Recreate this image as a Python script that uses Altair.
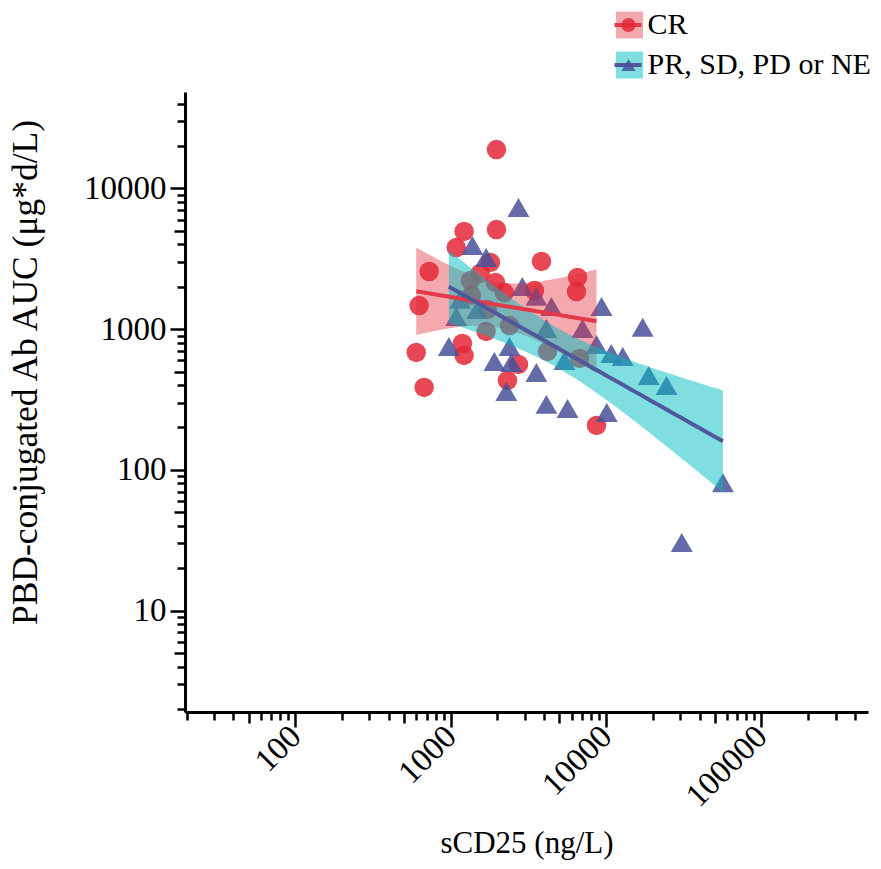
import altair as alt
import numpy as np
import pandas as pd

groups = ["CR", "PR, SD, PD or NE"]

cr_x = [1970, 1220, 1970, 1085, 3840, 727, 1800, 1550, 1940, 2210, 3460, 6550, 6450, 626,
        1340, 1360, 1720, 2390, 1690, 1190, 1220, 600, 4200, 6750, 2730, 2320, 675, 8680]
cr_y = [18900, 4950, 5100, 3800, 3030, 2570, 2980, 2490, 2150, 1820, 1880, 2330, 1850, 1470,
        2220, 1740, 1380, 1060, 963, 791, 650, 683, 694, 619, 561, 432, 385, 207]

ot_x = [2730, 1380, 1690, 2890, 3560, 4450, 9350, 1085, 7050, 4130, 973, 2390, 1910, 3560, 2280,
        4130, 5650, 10100, 8680, 10800, 12800, 17200, 18800, 24500, 56500, 30700, 5400, 2460, 1150, 1480]
ot_y = [7330, 3930, 3230, 2010, 1710, 1450, 1450, 1230, 1010, 1010, 753, 753, 589, 492, 361,
        292, 273, 256, 778, 672, 640, 1030, 469, 398, 81, 30.5, 599, 580, 1630, 1380]

x_ticks = [m * 10 ** e for e in range(1, 6) for m in range(1, 10) if 19 < m * 10 ** e < 490000]
y_ticks = [m * 10 ** e for e in range(0, 5) for m in range(1, 10) if 1.8 < m * 10 ** e < 49000]

RED = "#E42837"
BLUE = "#48519A"
BAND = ["rgba(228,40,55,0.4)", "rgba(0,190,194,0.5)"]
LINE = ["#E23A4A", "#4E589B"]
FONT = "Liberation Serif"


def tq(df):
    z = 1.959963985
    g1 = (z ** 3 + z) / 4
    g2 = (5 * z ** 5 + 16 * z ** 3 + 3 * z) / 96
    g3 = (3 * z ** 7 + 19 * z ** 5 + 17 * z ** 3 - 15 * z) / 384
    return z + g1 / df + g2 / df ** 2 + g3 / df ** 3


def fit(xs, ys, name):
    lx = np.log10(np.array(xs, float))
    ly = np.log10(np.array(ys, float))
    n = len(lx)
    b, a = np.polyfit(lx, ly, 1)
    s = np.sqrt(np.sum((ly - (a + b * lx)) ** 2) / (n - 2))
    mx = lx.mean()
    sxx = np.sum((lx - mx) ** 2)
    gx = np.linspace(lx.min(), lx.max(), 80)
    gy = a + b * gx
    se = s * np.sqrt(1 / n + (gx - mx) ** 2 / sxx)
    t = tq(n - 2)
    return pd.DataFrame({"x": 10 ** gx, "fit": 10 ** gy, "lo": 10 ** (gy - t * se),
                         "hi": 10 ** (gy + t * se), "group": name})


pts = pd.concat([
    pd.DataFrame({"x": cr_x, "y": cr_y, "group": groups[0]}),
    pd.DataFrame({"x": ot_x, "y": ot_y, "group": groups[1]}),
])
fits = pd.concat([fit(cr_x, cr_y, groups[0]), fit(ot_x, ot_y, groups[1])])
band_df = fits[["x", "lo", "hi", "group"]].copy()
line_df = fits[["x", "fit", "group"]].copy()

major = "abs(log(datum.value)/LN10 - round(log(datum.value)/LN10)) < 0.001"
five = "abs(log(datum.value/5)/LN10 - round(log(datum.value/5)/LN10)) < 0.001"
tick_size = {"condition": [{"test": major, "value": 15}, {"test": five, "value": 11}], "value": 8}
label_expr = major + " ? format(datum.value, 'd') : ''"

common_axis = dict(grid=False, domainWidth=3, domainColor="black", tickWidth=2.5, tickColor="black",
                   tickSize=tick_size, labelExpr=label_expr, labelOverlap=False, labelFlush=False,
                   labelFont=FONT, labelFontSize=33, labelColor="black", titleFont=FONT,
                   titleFontWeight="normal", titleColor="black")

x_axis = alt.Axis(values=x_ticks, title="sCD25 (ng/L)", labelAngle=-45, labelAlign="right",
                  labelBaseline="middle", labelPadding=4, titlePadding=15, titleFontSize=31,
                  **common_axis)
y_axis = alt.Axis(values=y_ticks, title="PBD-conjugated Ab AUC (μg*d/L)", labelPadding=4,
                  titlePadding=40, titleFontSize=35.5, titleY=280, **common_axis)

xscale = alt.Scale(type="log", domain=[19.5, 485000], nice=False)
yscale = alt.Scale(type="log", domain=[1.9, 48500], nice=False)

X = alt.X("x:Q", scale=xscale, axis=x_axis)

leg_common = dict(title=None, orient="none", padding=0, rowPadding=10, clipHeight=30,
                  labelFont=FONT, labelFontSize=30, labelColor="black", labelLimit=500,
                  legendY=-82)

band_legend = alt.Legend(legendX=429.5, symbolType="square", symbolSize=729, symbolStrokeWidth=0,
                         symbolOpacity=1, labelOffset=3, **leg_common)
line_legend = alt.Legend(legendX=427.5, symbolType="stroke", symbolSize=729, symbolStrokeWidth=4,
                         symbolOpacity=1, labelOpacity=0, labelOffset=1, **leg_common)
pt_legend = alt.Legend(legendX=428.5, symbolSize=200, symbolStrokeWidth=0, symbolOpacity=0.85,
                       labelOpacity=0, labelOffset=8.5, **leg_common)

band_fill = alt.Fill("group:N", scale=alt.Scale(range=BAND), legend=band_legend)
line_stroke = alt.Stroke("group:N", scale=alt.Scale(range=LINE), legend=line_legend)

band_dummy = alt.Chart(band_df).mark_area(opacity=0).encode(
    x=X, y=alt.Y("lo:Q", scale=yscale, axis=y_axis), y2="hi:Q", fill=band_fill)
line_dummy = alt.Chart(line_df).mark_line(opacity=0, strokeWidth=4).encode(
    x=X, y=alt.Y("fit:Q", scale=yscale, axis=y_axis), stroke=line_stroke)

points = alt.Chart(pts).mark_point(filled=True, opacity=0.85, strokeWidth=0).encode(
    x=X,
    y=alt.Y("y:Q", scale=yscale, axis=y_axis),
    color=alt.Color("group:N", scale=alt.Scale(range=[RED, BLUE]), legend=pt_legend),
    shape=alt.Shape("group:N", scale=alt.Scale(range=["circle", "triangle-up"]), legend=pt_legend),
    size=alt.condition(f"datum.group == '{groups[0]}'", alt.value(380), alt.value(480)),
)

band = alt.Chart(band_df).mark_area().encode(
    x=X, y=alt.Y("lo:Q", scale=yscale, axis=y_axis), y2="hi:Q", fill=band_fill)
line = alt.Chart(line_df).mark_line(strokeWidth=4).encode(
    x=X, y=alt.Y("fit:Q", scale=yscale, axis=y_axis), stroke=line_stroke)

chart = alt.layer(band_dummy, line_dummy, points, band, line).properties(
    width=683, height=620, autosize="none",
    padding={"left": 177, "top": 84, "right": 5, "bottom": 148},
).configure_view(stroke=None)

chart.save("out.html", embed_options={"renderer": "svg", "actions": False})
